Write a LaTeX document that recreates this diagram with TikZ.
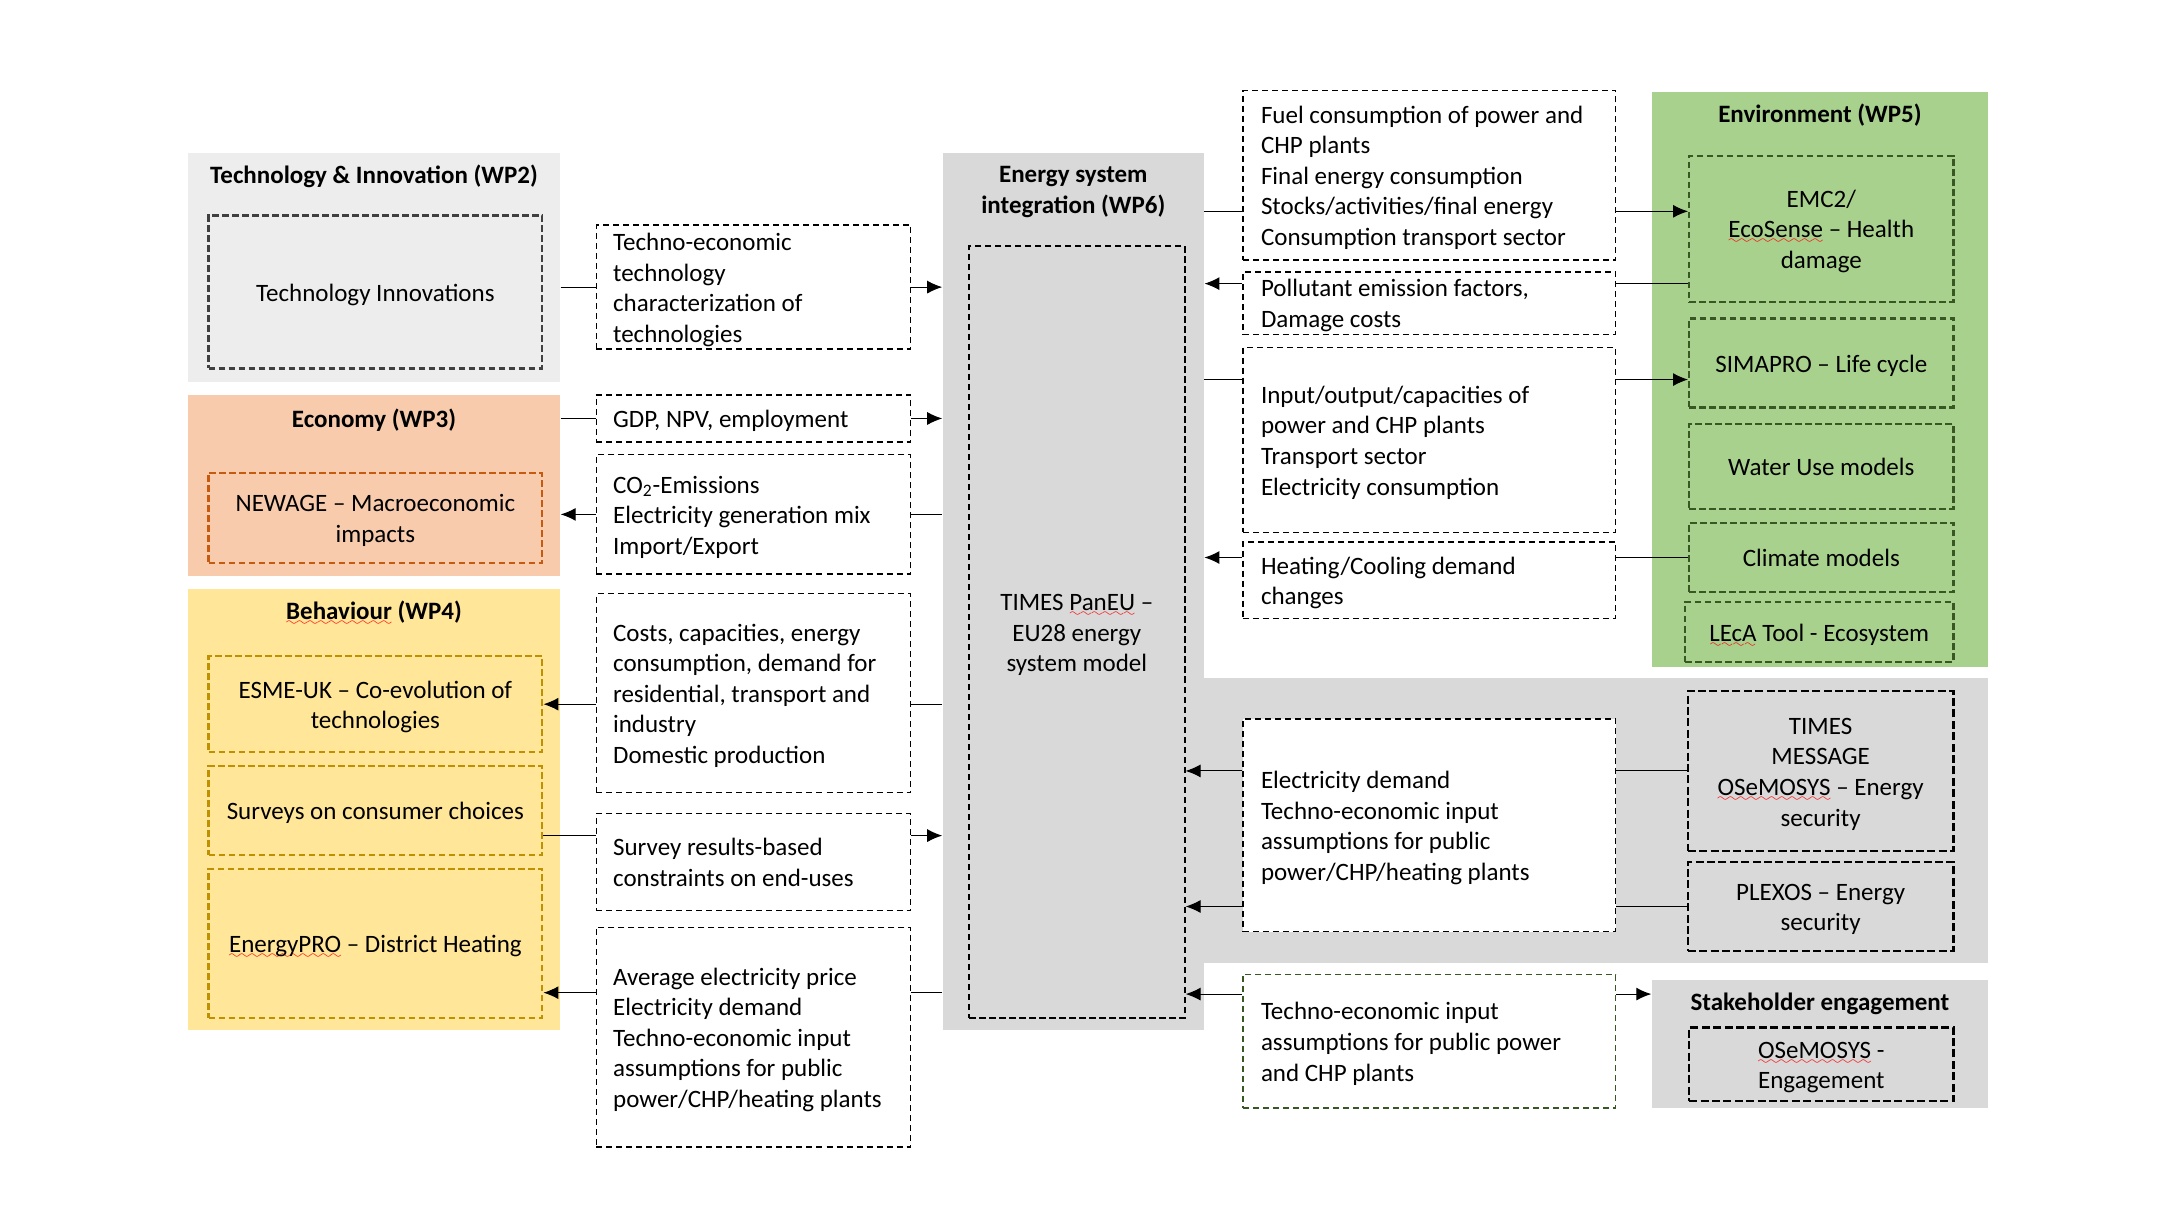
\documentclass[tikz,border=0pt]{standalone}
\usepackage{fontspec}
\setmainfont{Carlito}
\usetikzlibrary{arrows.meta,calc}

\definecolor{techgray}{HTML}{EDEDED}
\definecolor{ecopeach}{HTML}{F8CBAD}
\definecolor{ecoline}{HTML}{C55A11}
\definecolor{behyellow}{HTML}{FFE699}
\definecolor{behline}{HTML}{BF9000}
\definecolor{envgreen}{HTML}{A9D18E}
\definecolor{envline}{HTML}{385723}
\definecolor{intgray}{HTML}{D9D9D9}

% red spell-check wave under a word
\font\wavefont=lasy6
\newcommand\spellchk[1]{\leavevmode\setbox0\hbox{#1}%
  \rlap{\lower3pt\hbox to\wd0{\color{red}\xleaders\hbox{\wavefont\char58}\hfill}}#1}

\tikzset{
  corners/.style n args={4}{at={($(#1,#2)!0.5!(#3,#4)$)},
    minimum width={(#3-#1)*0.695pt}, minimum height={(#4-#2)*0.695pt}},
  bodyfont/.style={font=\fontsize{12.5}{15.3}\selectfont,
    execute at begin node={\rule{0pt}{12.6pt}},
    execute at end node={\rule[-3.4pt]{0pt}{0pt}}},
  panel/.style={draw=none, inner sep=0pt},
  title/.style={inner sep=0pt, font=\bfseries\fontsize{12.5}{15.3}\selectfont},
  inbox/.style={draw, line width=1.2pt, dash pattern=on 3.4pt off 1.6pt,
    inner sep=0pt, align=flush center, text width=#1, bodyfont},
  inbox/.default=162pt,
  thickbox/.style={draw=black, line width=1.2pt, dash pattern=on 4pt off 1.7pt,
    inner sep=0pt, align=flush center, text width=#1, bodyfont},
  thickbox/.default=124pt,
  wbox/.style={draw=black, line width=0.75pt, dash pattern=on 3pt off 2pt,
    fill=white, inner sep=0pt, align=flush left, bodyfont},
  midbox/.style={wbox, text width=140.4pt},
  sidebox/.style={wbox, text width=168.2pt},
  conn/.style={line width=0.55pt}
}

\begin{document}
\begin{tikzpicture}[x=0.695pt, y=-0.695pt, >={Latex[length=7.5pt,width=6.5pt]}]
  \path[use as bounding box, fill=white] (0,0) rectangle (1568,879);

  % Panels of the work packages
  \node[panel, fill=techgray, corners={135}{110}{403}{275}] (wp2) {};
  \node[panel, fill=ecopeach, corners={135}{284}{403}{414}] (wp3) {};
  \node[panel, fill=behyellow, corners={135}{424}{403}{741}] (wp4) {};
  \node[panel, fill=intgray, corners={866}{488}{1430}{693}] (secpanel) {};
  \node[panel, fill=intgray, corners={678}{110}{866}{741}] (wp6) {};
  \node[panel, fill=envgreen, corners={1188}{66}{1430}{480}] (wp5) {};
  \node[panel, fill=intgray, corners={1188}{705}{1430}{797}] (stake) {};

  \node[title] (wp2t) at (269,127) {Technology \& Innovation (WP2)};
  \node[title] (wp3t) at (269,302) {Economy (WP3)};
  \node[title] (wp4t) at (269,441) {\spellchk{Behaviour} (WP4)};
  \node[title, align=center] (wp6t) at (772,138) {Energy system\\integration (WP6)};
  \node[title] (wp5t) at (1309,83) {Environment (WP5)};
  \node[title] (staket) at (1309,722) {Stakeholder engagement};

  % Models on the left
  \node[inbox, draw=black!75, fill=techgray, corners={150}{155}{390}{265}] (techinno) {Technology Innovations};
  \node[inbox, draw=ecoline, fill=ecopeach, corners={150}{340}{390}{405}] (newage) {NEWAGE – Macroeconomic\\impacts};
  \node[inbox, draw=behline, fill=behyellow, corners={150}{472}{390}{541}] (esme) {ESME-UK – Co-evolution of\\technologies};
  \node[inbox, draw=behline, fill=behyellow, corners={150}{551}{390}{615}] (surveys) {Surveys on consumer choices};
  \node[inbox, draw=behline, fill=behyellow, corners={150}{625}{390}{732}] (energypro) {\spellchk{EnergyPRO} – District Heating};

  % Exchanged data, left
  \node[midbox, corners={429}{163}{655}{250}] (b1) {Techno-economic\\technology\\characterization of\\technologies};
  \node[midbox, corners={429}{284}{655}{318}] (b2) {GDP, NPV, employment};
  \node[midbox, corners={429}{327}{655}{413}] (b3) {CO\textsubscript{2}-Emissions\\Electricity generation mix\\Import/Export};
  \node[midbox, corners={429}{427}{655}{570}] (b4) {Costs, capacities, energy\\consumption, demand for\\residential, transport and\\industry\\Domestic production};
  \node[midbox, corners={429}{585}{655}{655}] (b5) {Survey results-based\\constraints on end-uses};
  \node[midbox, corners={429}{667}{655}{825}] (b6) {Average electricity price\\Electricity demand\\Techno-economic input\\assumptions for public\\power/CHP/heating plants};

  % Central model
  \node[thickbox=100pt, line width=1pt, dash pattern=on 3.3pt off 1.7pt, fill=intgray, corners={697}{177}{852}{732}] (times) {TIMES \spellchk{PanEU} –\\EU28 energy\\system model};

  % Exchanged data, right
  \node[sidebox, corners={894}{65}{1162}{187}] (r1) {Fuel consumption of power and\\CHP plants\\Final energy consumption\\Stocks/activities/final energy\\Consumption transport sector};
  \node[sidebox, corners={894}{196}{1162}{240}] (r2) {Pollutant emission factors,\\Damage costs};
  \node[sidebox, corners={894}{250}{1162}{383}] (r3) {Input/output/capacities of\\power and CHP plants\\Transport sector\\Electricity consumption};
  \node[sidebox, corners={894}{390}{1162}{445}] (r4) {Heating/Cooling demand\\changes};
  \node[sidebox, corners={894}{517}{1162}{670}] (r5) {Electricity demand\\Techno-economic input\\assumptions for public\\power/CHP/heating plants};
  \node[sidebox, draw=envline, corners={894}{701}{1162}{797}] (r6) {Techno-economic input\\assumptions for public power\\and CHP plants};

  % Models on the right
  \node[inbox=124pt, draw=envline, fill=envgreen, corners={1215}{112}{1405}{217}] (emc2) {EMC2/\\\spellchk{EcoSense} – Health\\damage};
  \node[inbox=124pt, draw=envline, fill=envgreen, corners={1215}{229}{1405}{293}] (simapro) {SIMAPRO – Life cycle};
  \node[inbox=124pt, draw=envline, fill=envgreen, corners={1215}{305}{1405}{366}] (water) {Water Use models};
  \node[inbox=124pt, draw=envline, fill=envgreen, corners={1215}{376}{1405}{426}] (climate) {Climate models};
  \node[inbox=124pt, draw=envline, fill=envgreen, corners={1212}{433}{1405}{476}] (leca) {\spellchk{LEcA} Tool - Ecosystem};
  \node[thickbox, fill=intgray, corners={1214}{497}{1405}{612}] (message) {TIMES\\MESSAGE\\\spellchk{OSeMOSYS} – Energy\\security};
  \node[thickbox, fill=intgray, corners={1214}{620}{1405}{684}] (plexos) {PLEXOS – Energy\\security};
  \node[thickbox, fill=intgray, corners={1215}{739}{1405}{792}] (osemosys) {\spellchk{OSeMOSYS} -\\Engagement};

  % connector levels
  \coordinate (lvA) at (0,601);
  \coordinate (lvB) at (0,714);
  \coordinate (lvC) at (0,152);
  \coordinate (lvD) at (0,204);
  \coordinate (lvE) at (0,273);
  \coordinate (lvF) at (0,715);

  % Links on the left
  \draw[conn] (wp2.east |- b1.west) -- (b1.west);
  \draw[conn, ->] (b1.east) -- (b1.east -| wp6.west);
  \draw[conn] (wp3.east |- b2.west) -- (b2.west);
  \draw[conn, ->] (b2.east) -- (b2.east -| wp6.west);
  \draw[conn] (wp6.west |- b3.east) -- (b3.east);
  \draw[conn, ->] (b3.west) -- (b3.west -| wp3.east);
  \draw[conn] (wp6.west |- esme.east) -- (b4.east |- esme.east);
  \draw[conn, ->] (b4.west |- esme.east) -- (esme.east);
  \draw[conn] (surveys.east |- lvA) -- (b5.west |- lvA);
  \draw[conn, ->] (b5.east |- lvA) -- (wp6.west |- lvA);
  \draw[conn] (wp6.west |- lvB) -- (b6.east |- lvB);
  \draw[conn, ->] (b6.west |- lvB) -- (energypro.east |- lvB);

  % Links on the right
  \draw[conn] (wp6.east |- lvC) -- (r1.west |- lvC);
  \draw[conn, ->] (r1.east |- lvC) -- (emc2.west |- lvC);
  \draw[conn] (emc2.west |- lvD) -- (r2.east |- lvD);
  \draw[conn, ->] (r2.west |- lvD) -- (wp6.east |- lvD);
  \draw[conn] (wp6.east |- lvE) -- (r3.west |- lvE);
  \draw[conn, ->] (r3.east |- lvE) -- (simapro.west |- lvE);
  \draw[conn] (climate.west) -- (r4.east |- climate.west);
  \draw[conn, ->] (r4.west |- climate.west) -- (wp6.east |- climate.west);
  \draw[conn] (message.west) -- (r5.east |- message.west);
  \draw[conn, ->] (r5.west |- message.west) -- (times.east |- message.west);
  \draw[conn] (plexos.west) -- (r5.east |- plexos.west);
  \draw[conn, ->] (r5.west |- plexos.west) -- (times.east |- plexos.west);
  \draw[conn, ->] (r6.west |- lvF) -- (times.east |- lvF);
  \draw[conn, ->] (r6.east |- lvF) -- (stake.west |- lvF);
\end{tikzpicture}
\end{document}
